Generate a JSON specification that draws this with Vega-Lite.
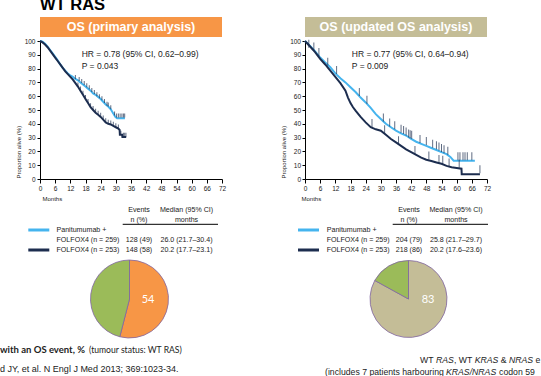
{
  "$schema": "https://vega.github.io/schema/vega-lite/v6.json",
  "background": "white",
  "padding": {"left": 0, "top": -4, "right": 0, "bottom": 0},
  "bounds": "flush",
  "align": "each",
  "columns": 2,
  "spacing": {"row": 4, "column": 83},
  "config": {
    "view": {"stroke": null},
    "font": "Liberation Sans",
    "text": {"font": "Liberation Sans"},
    "axis": {"grid": false, "labelOverlap": false, "labelSeparation": 0, "labelFont": "Liberation Sans", "labelFontSize": 6.5, "labelColor": "#222", "titleFont": "Liberation Sans", "titleFontSize": 6, "titleFontWeight": "normal", "titleColor": "#222", "domainColor": "#000", "tickColor": "#000", "domainWidth": 1, "tickWidth": 1, "labelFlush": false}
  },
  "datasets": {
    "km1": [
      {"arm": "Panitumumab + FOLFOX4", "month": 0, "surv": 100}, {"arm": "Panitumumab + FOLFOX4", "month": 1, "surv": 99.5}, {"arm": "Panitumumab + FOLFOX4", "month": 2, "surv": 98}, {"arm": "Panitumumab + FOLFOX4", "month": 3, "surv": 96}, {"arm": "Panitumumab + FOLFOX4", "month": 4, "surv": 93.5}, {"arm": "Panitumumab + FOLFOX4", "month": 5, "surv": 91}, {"arm": "Panitumumab + FOLFOX4", "month": 6, "surv": 88.5}, {"arm": "Panitumumab + FOLFOX4", "month": 7, "surv": 86}, {"arm": "Panitumumab + FOLFOX4", "month": 8, "surv": 83}, {"arm": "Panitumumab + FOLFOX4", "month": 9, "surv": 80.5}, {"arm": "Panitumumab + FOLFOX4", "month": 10, "surv": 78.5}, {"arm": "Panitumumab + FOLFOX4", "month": 11, "surv": 76.5}, {"arm": "Panitumumab + FOLFOX4", "month": 12, "surv": 75}, {"arm": "Panitumumab + FOLFOX4", "month": 13, "surv": 74}, {"arm": "Panitumumab + FOLFOX4", "month": 14, "surv": 72.5}, {"arm": "Panitumumab + FOLFOX4", "month": 15, "surv": 71.5}, {"arm": "Panitumumab + FOLFOX4", "month": 16, "surv": 70}, {"arm": "Panitumumab + FOLFOX4", "month": 17, "surv": 68.5}, {"arm": "Panitumumab + FOLFOX4", "month": 18, "surv": 67}, {"arm": "Panitumumab + FOLFOX4", "month": 19, "surv": 65.5}, {"arm": "Panitumumab + FOLFOX4", "month": 20, "surv": 64}, {"arm": "Panitumumab + FOLFOX4", "month": 21, "surv": 62}, {"arm": "Panitumumab + FOLFOX4", "month": 22, "surv": 61}, {"arm": "Panitumumab + FOLFOX4", "month": 23, "surv": 59.5}, {"arm": "Panitumumab + FOLFOX4", "month": 24, "surv": 58}, {"arm": "Panitumumab + FOLFOX4", "month": 25, "surv": 56}, {"arm": "Panitumumab + FOLFOX4", "month": 26, "surv": 54}, {"arm": "Panitumumab + FOLFOX4", "month": 27, "surv": 52.5}, {"arm": "Panitumumab + FOLFOX4", "month": 28, "surv": 50.5}, {"arm": "Panitumumab + FOLFOX4", "month": 29, "surv": 47.5}, {"arm": "Panitumumab + FOLFOX4", "month": 29.8, "surv": 45}, {"arm": "Panitumumab + FOLFOX4", "month": 30.5, "surv": 44}, {"arm": "Panitumumab + FOLFOX4", "month": 33.6, "surv": 44},
      {"arm": "FOLFOX4", "month": 0, "surv": 100}, {"arm": "FOLFOX4", "month": 1, "surv": 99}, {"arm": "FOLFOX4", "month": 2, "surv": 97.5}, {"arm": "FOLFOX4", "month": 3, "surv": 95.5}, {"arm": "FOLFOX4", "month": 4, "surv": 93}, {"arm": "FOLFOX4", "month": 5, "surv": 90.5}, {"arm": "FOLFOX4", "month": 6, "surv": 88}, {"arm": "FOLFOX4", "month": 7, "surv": 85.5}, {"arm": "FOLFOX4", "month": 8, "surv": 83}, {"arm": "FOLFOX4", "month": 9, "surv": 80.5}, {"arm": "FOLFOX4", "month": 10, "surv": 78}, {"arm": "FOLFOX4", "month": 11, "surv": 76}, {"arm": "FOLFOX4", "month": 12, "surv": 74}, {"arm": "FOLFOX4", "month": 13, "surv": 72}, {"arm": "FOLFOX4", "month": 14, "surv": 69.5}, {"arm": "FOLFOX4", "month": 15, "surv": 67}, {"arm": "FOLFOX4", "month": 16, "surv": 64}, {"arm": "FOLFOX4", "month": 17, "surv": 61}, {"arm": "FOLFOX4", "month": 18, "surv": 58}, {"arm": "FOLFOX4", "month": 19, "surv": 55}, {"arm": "FOLFOX4", "month": 20, "surv": 52}, {"arm": "FOLFOX4", "month": 21, "surv": 50}, {"arm": "FOLFOX4", "month": 22, "surv": 48}, {"arm": "FOLFOX4", "month": 23, "surv": 46.5}, {"arm": "FOLFOX4", "month": 24, "surv": 45}, {"arm": "FOLFOX4", "month": 25, "surv": 43}, {"arm": "FOLFOX4", "month": 26, "surv": 41}, {"arm": "FOLFOX4", "month": 27, "surv": 40}, {"arm": "FOLFOX4", "month": 28, "surv": 39.5}, {"arm": "FOLFOX4", "month": 29, "surv": 38.5}, {"arm": "FOLFOX4", "month": 30, "surv": 37.5}, {"arm": "FOLFOX4", "month": 31, "surv": 36.5}, {"arm": "FOLFOX4", "month": 31.5, "surv": 35.5}, {"arm": "FOLFOX4", "month": 31.6, "surv": 32}, {"arm": "FOLFOX4", "month": 32.5, "surv": 32}, {"arm": "FOLFOX4", "month": 32.6, "surv": 30.5}, {"arm": "FOLFOX4", "month": 34.1, "surv": 30.5}
    ],
    "cens1": [
      {"month": 14, "surv": 74}, {"month": 15.5, "surv": 72.5}, {"month": 16.5, "surv": 71}, {"month": 17.5, "surv": 69.5}, {"month": 18.5, "surv": 68}, {"month": 19.5, "surv": 66.5}, {"month": 20.5, "surv": 64.5}, {"month": 21.5, "surv": 63}, {"month": 22.5, "surv": 61.5}, {"month": 23.5, "surv": 60}, {"month": 24.5, "surv": 58.5}, {"month": 25.5, "surv": 56.5}, {"month": 26.5, "surv": 54.5}, {"month": 27, "surv": 54}, {"month": 28, "surv": 52}, {"month": 29.5, "surv": 47.5}, {"month": 30.3, "surv": 46}, {"month": 31, "surv": 46}, {"month": 31.7, "surv": 46}, {"month": 32.4, "surv": 46}, {"month": 33, "surv": 46}, {"month": 33.5, "surv": 46},
      {"month": 15, "surv": 68.5}, {"month": 16, "surv": 65.5}, {"month": 17, "surv": 62.5}, {"month": 18, "surv": 59.5}, {"month": 19, "surv": 56.5}, {"month": 20, "surv": 53.5}, {"month": 21, "surv": 51.5}, {"month": 22, "surv": 49.5}, {"month": 23, "surv": 48}, {"month": 24, "surv": 46.5}, {"month": 25, "surv": 44.5}, {"month": 26, "surv": 42.5}, {"month": 27, "surv": 41.5}, {"month": 28, "surv": 41}, {"month": 29, "surv": 40}, {"month": 30, "surv": 39}, {"month": 31, "surv": 38}, {"month": 32, "surv": 33.5}, {"month": 33, "surv": 32}, {"month": 33.5, "surv": 32}, {"month": 34, "surv": 32}
    ],
    "km2": [
      {"arm": "Panitumumab + FOLFOX4", "month": 0, "surv": 100}, {"arm": "Panitumumab + FOLFOX4", "month": 2, "surv": 96.5}, {"arm": "Panitumumab + FOLFOX4", "month": 4, "surv": 92.5}, {"arm": "Panitumumab + FOLFOX4", "month": 6, "surv": 88}, {"arm": "Panitumumab + FOLFOX4", "month": 8, "surv": 84.5}, {"arm": "Panitumumab + FOLFOX4", "month": 10, "surv": 81}, {"arm": "Panitumumab + FOLFOX4", "month": 12, "surv": 76.5}, {"arm": "Panitumumab + FOLFOX4", "month": 14, "surv": 73}, {"arm": "Panitumumab + FOLFOX4", "month": 16, "surv": 70}, {"arm": "Panitumumab + FOLFOX4", "month": 18, "surv": 66.5}, {"arm": "Panitumumab + FOLFOX4", "month": 20, "surv": 63}, {"arm": "Panitumumab + FOLFOX4", "month": 22, "surv": 59}, {"arm": "Panitumumab + FOLFOX4", "month": 24, "surv": 55.5}, {"arm": "Panitumumab + FOLFOX4", "month": 26, "surv": 51.5}, {"arm": "Panitumumab + FOLFOX4", "month": 28, "surv": 47}, {"arm": "Panitumumab + FOLFOX4", "month": 30, "surv": 43.5}, {"arm": "Panitumumab + FOLFOX4", "month": 32, "surv": 40}, {"arm": "Panitumumab + FOLFOX4", "month": 34, "surv": 37.5}, {"arm": "Panitumumab + FOLFOX4", "month": 36, "surv": 35}, {"arm": "Panitumumab + FOLFOX4", "month": 38, "surv": 33}, {"arm": "Panitumumab + FOLFOX4", "month": 40, "surv": 31.5}, {"arm": "Panitumumab + FOLFOX4", "month": 42, "surv": 29}, {"arm": "Panitumumab + FOLFOX4", "month": 44, "surv": 27}, {"arm": "Panitumumab + FOLFOX4", "month": 46, "surv": 25.5}, {"arm": "Panitumumab + FOLFOX4", "month": 48, "surv": 24}, {"arm": "Panitumumab + FOLFOX4", "month": 50, "surv": 22.5}, {"arm": "Panitumumab + FOLFOX4", "month": 52, "surv": 21}, {"arm": "Panitumumab + FOLFOX4", "month": 54, "surv": 19.5}, {"arm": "Panitumumab + FOLFOX4", "month": 56, "surv": 18}, {"arm": "Panitumumab + FOLFOX4", "month": 57.5, "surv": 16}, {"arm": "Panitumumab + FOLFOX4", "month": 58.8, "surv": 13.3}, {"arm": "Panitumumab + FOLFOX4", "month": 67.2, "surv": 13.3},
      {"arm": "FOLFOX4", "month": 0, "surv": 100}, {"arm": "FOLFOX4", "month": 2, "surv": 96}, {"arm": "FOLFOX4", "month": 4, "surv": 92}, {"arm": "FOLFOX4", "month": 6, "surv": 87}, {"arm": "FOLFOX4", "month": 8, "surv": 83}, {"arm": "FOLFOX4", "month": 10, "surv": 78.5}, {"arm": "FOLFOX4", "month": 12, "surv": 74}, {"arm": "FOLFOX4", "month": 14, "surv": 69.5}, {"arm": "FOLFOX4", "month": 16, "surv": 64}, {"arm": "FOLFOX4", "month": 17, "surv": 59}, {"arm": "FOLFOX4", "month": 18, "surv": 55}, {"arm": "FOLFOX4", "month": 19, "surv": 52}, {"arm": "FOLFOX4", "month": 20, "surv": 49.5}, {"arm": "FOLFOX4", "month": 22, "surv": 45}, {"arm": "FOLFOX4", "month": 24, "surv": 41}, {"arm": "FOLFOX4", "month": 26, "surv": 37.5}, {"arm": "FOLFOX4", "month": 28, "surv": 36}, {"arm": "FOLFOX4", "month": 30, "surv": 35}, {"arm": "FOLFOX4", "month": 32, "surv": 32}, {"arm": "FOLFOX4", "month": 34, "surv": 29}, {"arm": "FOLFOX4", "month": 36, "surv": 26.5}, {"arm": "FOLFOX4", "month": 38, "surv": 24}, {"arm": "FOLFOX4", "month": 40, "surv": 21.5}, {"arm": "FOLFOX4", "month": 42, "surv": 19.5}, {"arm": "FOLFOX4", "month": 44, "surv": 17.5}, {"arm": "FOLFOX4", "month": 46, "surv": 15.5}, {"arm": "FOLFOX4", "month": 48, "surv": 14}, {"arm": "FOLFOX4", "month": 50, "surv": 13}, {"arm": "FOLFOX4", "month": 52, "surv": 12}, {"arm": "FOLFOX4", "month": 54, "surv": 11}, {"arm": "FOLFOX4", "month": 56, "surv": 9.5}, {"arm": "FOLFOX4", "month": 58, "surv": 8.5}, {"arm": "FOLFOX4", "month": 60, "surv": 8}, {"arm": "FOLFOX4", "month": 61.9, "surv": 7.5}, {"arm": "FOLFOX4", "month": 62, "surv": 3.5}, {"arm": "FOLFOX4", "month": 69.2, "surv": 3.5}
    ],
    "cens2": [
      {"month": 1.5, "surv": 98}, {"month": 3.5, "surv": 96}, {"month": 5.5, "surv": 92}, {"month": 9, "surv": 85}, {"month": 12.5, "surv": 79}, {"month": 21.5, "surv": 63}, {"month": 24.5, "surv": 57.5}, {"month": 31, "surv": 44.5}, {"month": 33.5, "surv": 41}, {"month": 35.5, "surv": 39}, {"month": 38, "surv": 36.5}, {"month": 39, "surv": 35.5}, {"month": 40, "surv": 34.5}, {"month": 41, "surv": 33}, {"month": 41.6, "surv": 32.5}, {"month": 42.2, "surv": 32}, {"month": 45.5, "surv": 29}, {"month": 48, "surv": 27.5}, {"month": 50.5, "surv": 25.5}, {"month": 52, "surv": 24.5}, {"month": 53, "surv": 23.5}, {"month": 54, "surv": 22.5}, {"month": 55, "surv": 21.5}, {"month": 56.5, "surv": 20.5}, {"month": 60.5, "surv": 16.5}, {"month": 61.3, "surv": 16.5}, {"month": 62.5, "surv": 16.5}, {"month": 63.3, "surv": 16.5}, {"month": 64.2, "surv": 16.5}, {"month": 66, "surv": 16.5},
      {"month": 26.5, "surv": 40.5}, {"month": 31.5, "surv": 36}, {"month": 37, "surv": 28}, {"month": 43.5, "surv": 21}, {"month": 49, "surv": 17}, {"month": 53, "surv": 14.5}, {"month": 54.5, "surv": 14}, {"month": 57, "surv": 12}, {"month": 61, "surv": 11}, {"month": 69.2, "surv": 7}
    ]
  },
  "concat": [
    {
      "width": 182, "height": 20,
      "view": {"fill": "#F79646", "stroke": null},
      "layer": [
        {
          "data": {"values": [{"label": "OS (primary analysis)"}]},
          "mark": {"type": "text", "color": "white", "fontWeight": "bold", "fontSize": 12.5, "font": "Liberation Sans"},
          "encoding": {"text": {"field": "label"}}
        },
        {
          "data": {"values": [{"label": "WT RAS"}]},
          "mark": {"type": "text", "color": "#000", "fontWeight": "bold", "fontSize": 16.5, "font": "Liberation Sans", "align": "left", "baseline": "alphabetic", "dy": -17.5},
          "encoding": {"x": {"datum": 0, "type": "quantitative", "scale": {"domain": [0, 1], "nice": false}, "axis": null}, "text": {"field": "label"}}
        }
      ]
    },
    {
      "width": 182, "height": 20,
      "view": {"fill": "#C4BD97", "stroke": null},
      "data": {"values": [{"label": "OS (updated OS analysis)"}]},
      "mark": {"type": "text", "color": "white", "fontWeight": "bold", "fontSize": 12.5, "font": "Liberation Sans"},
      "encoding": {"text": {"field": "label"}}
    },
    {
      "width": 182, "height": 138,
      "layer": [
        {
          "data": {"name": "km1"},
          "mark": {"type": "line", "strokeWidth": 2, "interpolate": "linear"},
          "encoding": {
            "x": {"field": "month", "type": "quantitative", "scale": {"domain": [0, 72], "nice": false},
              "axis": {"values": [0, 6, 12, 18, 24, 30, 36, 42, 48, 54, 60, 66, 72], "tickCount": 30, "title": "Months", "tickSize": 4, "labelPadding": 2, "titleX": 2, "titleY": 16, "titleAlign": "left", "titleBaseline": "top"}},
            "y": {"field": "surv", "type": "quantitative", "scale": {"domain": [0, 100], "nice": false},
              "axis": {"values": [0, 10, 20, 30, 40, 50, 60, 70, 80, 90, 100], "tickCount": 30, "title": "Proportion alive (%)", "tickSize": 3, "labelPadding": 2, "titleX": -21.5, "titleY": 137, "titleAngle": -90, "titleAlign": "left", "titleBaseline": "middle"}},
            "color": {"field": "arm", "type": "nominal", "scale": {"domain": ["Panitumumab + FOLFOX4", "FOLFOX4"], "range": ["#45B4EE", "#1C2D4F"]}, "legend": null}
          }
        },
        {
          "data": {"name": "cens1"},
          "mark": {"type": "tick", "orient": "vertical", "size": 4, "thickness": 1, "color": "#1C2D4F"},
          "encoding": {"x": {"field": "month", "type": "quantitative"}, "y": {"field": "surv", "type": "quantitative"}}
        },
        {
          "data": {"values": [{"t": "HR = 0.78 (95% CI, 0.62–0.99)\nP = 0.043"}]},
          "mark": {"type": "text", "align": "left", "baseline": "top", "lineBreak": "\n", "lineHeight": 12, "fontSize": 8.5, "color": "#222"},
          "encoding": {"x": {"datum": 16.5, "type": "quantitative"}, "y": {"datum": 93.2, "type": "quantitative"}, "text": {"field": "t"}}
        }
      ]
    },
    {
      "width": 182, "height": 138,
      "layer": [
        {
          "data": {"name": "km2"},
          "mark": {"type": "line", "strokeWidth": 2, "interpolate": "linear"},
          "encoding": {
            "x": {"field": "month", "type": "quantitative", "scale": {"domain": [0, 72], "nice": false},
              "axis": {"values": [0, 6, 12, 18, 24, 30, 36, 42, 48, 54, 60, 66, 72], "tickCount": 30, "title": "Months", "tickSize": 4, "labelPadding": 2, "titleX": -4, "titleY": 16, "titleAlign": "left", "titleBaseline": "top"}},
            "y": {"field": "surv", "type": "quantitative", "scale": {"domain": [0, 100], "nice": false},
              "axis": {"values": [0, 10, 20, 30, 40, 50, 60, 70, 80, 90, 100], "tickCount": 30, "title": "Proportion alive (%)", "tickSize": 3, "labelPadding": 1.5, "titleX": -21.5, "titleY": 137, "titleAngle": -90, "titleAlign": "left", "titleBaseline": "middle"}},
            "color": {"field": "arm", "type": "nominal", "scale": {"domain": ["Panitumumab + FOLFOX4", "FOLFOX4"], "range": ["#45B4EE", "#1C2D4F"]}, "legend": null}
          }
        },
        {
          "data": {"name": "cens2"},
          "mark": {"type": "tick", "orient": "vertical", "size": 8, "thickness": 1, "color": "#1C2D4F"},
          "encoding": {"x": {"field": "month", "type": "quantitative"}, "y": {"field": "surv", "type": "quantitative"}}
        },
        {
          "data": {"values": [{"t": "HR = 0.77 (95% CI, 0.64–0.94)\nP = 0.009"}]},
          "mark": {"type": "text", "align": "left", "baseline": "top", "lineBreak": "\n", "lineHeight": 12, "fontSize": 8.5, "color": "#222"},
          "encoding": {"x": {"datum": 18.5, "type": "quantitative"}, "y": {"datum": 93.2, "type": "quantitative"}, "text": {"field": "t"}}
        }
      ]
    },
    {
      "width": 182, "height": 72,
      "data": {"values": [
        {"line": 0, "c2": "Events", "c3": "Median (95% CI)"},
        {"line": 1, "c2": "n (%)", "c3": "months"},
        {"line": 2, "c1": "Panitumumab +"},
        {"line": 3, "c1": "FOLFOX4 (n = 259)", "c2": "128 (49)", "c3": "26.0 (21.7–30.4)"},
        {"line": 4, "c1": "FOLFOX4 (n = 253)", "c2": "148 (58)", "c3": "20.2 (17.7–23.1)"}
      ]},
      "layer": [
        {
          "data": {"values": [{"arm": "Panitumumab + FOLFOX4", "line": 2}, {"arm": "FOLFOX4", "line": 4}]},
          "mark": {"type": "rule", "strokeWidth": 3},
          "encoding": {
            "x": {"datum": -11.7, "type": "quantitative", "scale": {"domain": [0, 182], "nice": false, "zero": false}, "axis": null},
            "x2": {"datum": 9.3},
            "y": {"field": "line", "type": "quantitative", "scale": {"domain": [-2.7, 4.5], "reverse": true, "nice": false, "zero": false}, "axis": null},
            "color": {"field": "arm", "type": "nominal", "legend": null}
          }
        },
        {
          "data": {"values": [{"k": "header"}]},
          "mark": {"type": "rule", "color": "#000", "strokeWidth": 1},
          "encoding": {"x": {"datum": 82.7, "type": "quantitative"}, "x2": {"datum": 178}, "y": {"datum": 1.43, "type": "quantitative"}}
        },
        {
          "transform": [{"filter": "isValid(datum.c1)"}],
          "mark": {"type": "text", "align": "left", "baseline": "middle", "fontSize": 7.1, "color": "#222"},
          "encoding": {"x": {"datum": 16.5, "type": "quantitative"}, "y": {"field": "line", "type": "quantitative"}, "text": {"field": "c1"}}
        },
        {
          "transform": [{"filter": "isValid(datum.c2)"}],
          "mark": {"type": "text", "align": "center", "baseline": "middle", "fontSize": 7.1, "color": "#222"},
          "encoding": {"x": {"datum": 99, "type": "quantitative"}, "y": {"field": "line", "type": "quantitative"}, "text": {"field": "c2"}}
        },
        {
          "transform": [{"filter": "isValid(datum.c3)"}],
          "mark": {"type": "text", "align": "center", "baseline": "middle", "fontSize": 7.1, "color": "#222"},
          "encoding": {"x": {"datum": 146.5, "type": "quantitative"}, "y": {"field": "line", "type": "quantitative"}, "text": {"field": "c3"}}
        }
      ]
    },
    {
      "width": 182, "height": 72,
      "data": {"values": [
        {"line": 0, "c2": "Events", "c3": "Median (95% CI)"},
        {"line": 1, "c2": "n (%)", "c3": "months"},
        {"line": 2, "c1": "Panitumumab +"},
        {"line": 3, "c1": "FOLFOX4 (n = 259)", "c2": "204 (79)", "c3": "25.8 (21.7–29.7)"},
        {"line": 4, "c1": "FOLFOX4 (n = 253)", "c2": "218 (86)", "c3": "20.2 (17.6–23.6)"}
      ]},
      "layer": [
        {
          "data": {"values": [{"arm": "Panitumumab + FOLFOX4", "line": 2}, {"arm": "FOLFOX4", "line": 4}]},
          "mark": {"type": "rule", "strokeWidth": 3},
          "encoding": {
            "x": {"datum": -7, "type": "quantitative", "scale": {"domain": [0, 182], "nice": false, "zero": false}, "axis": null},
            "x2": {"datum": 14},
            "y": {"field": "line", "type": "quantitative", "scale": {"domain": [-2.7, 4.5], "reverse": true, "nice": false, "zero": false}, "axis": null},
            "color": {"field": "arm", "type": "nominal", "legend": null}
          }
        },
        {
          "data": {"values": [{"k": "header"}]},
          "mark": {"type": "rule", "color": "#000", "strokeWidth": 1},
          "encoding": {"x": {"datum": 87.7, "type": "quantitative"}, "x2": {"datum": 183}, "y": {"datum": 1.43, "type": "quantitative"}}
        },
        {
          "transform": [{"filter": "isValid(datum.c1)"}],
          "mark": {"type": "text", "align": "left", "baseline": "middle", "fontSize": 7.1, "color": "#222"},
          "encoding": {"x": {"datum": 21.7, "type": "quantitative"}, "y": {"field": "line", "type": "quantitative"}, "text": {"field": "c1"}}
        },
        {
          "transform": [{"filter": "isValid(datum.c2)"}],
          "mark": {"type": "text", "align": "center", "baseline": "middle", "fontSize": 7.1, "color": "#222"},
          "encoding": {"x": {"datum": 104, "type": "quantitative"}, "y": {"field": "line", "type": "quantitative"}, "text": {"field": "c2"}}
        },
        {
          "transform": [{"filter": "isValid(datum.c3)"}],
          "mark": {"type": "text", "align": "center", "baseline": "middle", "fontSize": 7.1, "color": "#222"},
          "encoding": {"x": {"datum": 151, "type": "quantitative"}, "y": {"field": "line", "type": "quantitative"}, "text": {"field": "c3"}}
        }
      ]
    },
    {
      "width": 179, "height": 80,
      "data": {"values": [{"slice": "OS event (primary analysis)", "pct": 54, "ord": 1}, {"slice": "No OS event", "pct": 46, "ord": 2}]},
      "layer": [
        {
          "mark": {"type": "arc", "outerRadius": 39, "stroke": "#8064A2", "strokeWidth": 0.8},
          "encoding": {
            "theta": {"field": "pct", "type": "quantitative", "stack": true},
            "fill": {"field": "slice", "type": "nominal", "scale": {"domain": ["OS event (primary analysis)", "OS event (updated analysis)", "No OS event"], "range": ["#F79646", "#C4BD97", "#9BBB59"]}, "legend": null},
            "order": {"field": "ord", "type": "quantitative"}
          }
        },
        {
          "transform": [{"filter": "datum.ord == 1"}],
          "mark": {"type": "text", "dx": 18.5, "dy": 1, "color": "white", "fontSize": 11, "font": "Lato"},
          "encoding": {"text": {"field": "pct"}}
        }
      ]
    },
    {
      "width": 207, "height": 80,
      "data": {"values": [{"slice": "OS event (updated analysis)", "pct": 83, "ord": 1}, {"slice": "No OS event", "pct": 17, "ord": 2}]},
      "layer": [
        {
          "mark": {"type": "arc", "outerRadius": 38.5, "stroke": "#8064A2", "strokeWidth": 0.8},
          "encoding": {
            "theta": {"field": "pct", "type": "quantitative", "stack": true},
            "fill": {"field": "slice", "type": "nominal", "scale": {"domain": ["OS event (primary analysis)", "OS event (updated analysis)", "No OS event"], "range": ["#F79646", "#C4BD97", "#9BBB59"]}, "legend": null},
            "order": {"field": "ord", "type": "quantitative"}
          }
        },
        {
          "transform": [{"filter": "datum.ord == 1"}],
          "mark": {"type": "text", "dx": 19.5, "dy": 1, "color": "white", "fontSize": 11, "font": "Lato"},
          "encoding": {"text": {"field": "pct"}}
        }
      ]
    },
    {
      "width": 182, "height": 33,
      "layer": [
        {
          "data": {"values": [{"t": "with an OS event, %"}]},
          "mark": {"type": "text", "align": "left", "baseline": "middle", "font": "Lato", "fontWeight": "bold", "fontSize": 9.5, "color": "#222"},
          "encoding": {
            "x": {"datum": -40, "type": "quantitative", "scale": {"domain": [0, 182], "nice": false, "zero": false}, "axis": null},
            "y": {"datum": 7, "type": "quantitative", "scale": {"domain": [0, 33], "reverse": true, "nice": false, "zero": false}, "axis": null},
            "text": {"field": "t"}
          }
        },
        {
          "data": {"values": [{"t": "(tumour status: WT RAS)"}]},
          "mark": {"type": "text", "align": "left", "baseline": "middle", "font": "Lato", "fontSize": 8.6, "color": "#222"},
          "encoding": {"x": {"datum": 49, "type": "quantitative"}, "y": {"datum": 7, "type": "quantitative"}, "text": {"field": "t"}}
        },
        {
          "data": {"values": [{"t": "d JY, et al. N Engl J Med 2013; 369:1023-34."}]},
          "mark": {"type": "text", "align": "left", "baseline": "middle", "fontSize": 9, "color": "#222"},
          "encoding": {"x": {"datum": -40, "type": "quantitative"}, "y": {"datum": 26, "type": "quantitative"}, "text": {"field": "t"}}
        }
      ]
    },
    {
      "width": 182, "height": 33,
      "layer": [
        {
          "data": {"values": [{"t": "WT"}]},
          "mark": {"type": "text", "align": "left", "baseline": "middle", "fontSize": 8.7, "color": "#222"},
          "encoding": {
            "x": {"datum": 115, "type": "quantitative", "scale": {"domain": [0, 182], "nice": false, "zero": false}, "axis": null},
            "y": {"datum": 17, "type": "quantitative", "scale": {"domain": [0, 33], "reverse": true, "nice": false, "zero": false}, "axis": null},
            "text": {"field": "t"}
          }
        },
        {
          "data": {"values": [{"t": "RAS"}]},
          "mark": {"type": "text", "align": "left", "baseline": "middle", "fontSize": 8.7, "fontStyle": "italic", "color": "#222"},
          "encoding": {"x": {"datum": 131, "type": "quantitative"}, "y": {"datum": 17, "type": "quantitative"}, "text": {"field": "t"}}
        },
        {
          "data": {"values": [{"t": ", WT"}]},
          "mark": {"type": "text", "align": "left", "baseline": "middle", "fontSize": 8.7, "color": "#222"},
          "encoding": {"x": {"datum": 148.9, "type": "quantitative"}, "y": {"datum": 17, "type": "quantitative"}, "text": {"field": "t"}}
        },
        {
          "data": {"values": [{"t": "KRAS"}]},
          "mark": {"type": "text", "align": "left", "baseline": "middle", "fontSize": 8.7, "fontStyle": "italic", "color": "#222"},
          "encoding": {"x": {"datum": 169.7, "type": "quantitative"}, "y": {"datum": 17, "type": "quantitative"}, "text": {"field": "t"}}
        },
        {
          "data": {"values": [{"t": "&"}]},
          "mark": {"type": "text", "align": "left", "baseline": "middle", "fontSize": 8.7, "color": "#222"},
          "encoding": {"x": {"datum": 195.8, "type": "quantitative"}, "y": {"datum": 17, "type": "quantitative"}, "text": {"field": "t"}}
        },
        {
          "data": {"values": [{"t": "NRAS"}]},
          "mark": {"type": "text", "align": "left", "baseline": "middle", "fontSize": 8.7, "fontStyle": "italic", "color": "#222"},
          "encoding": {"x": {"datum": 204, "type": "quantitative"}, "y": {"datum": 17, "type": "quantitative"}, "text": {"field": "t"}}
        },
        {
          "data": {"values": [{"t": "exon 2"}]},
          "mark": {"type": "text", "align": "left", "baseline": "middle", "fontSize": 8.7, "color": "#222", "limit": 5.2, "ellipsis": "\u200b"},
          "encoding": {"x": {"datum": 230.6, "type": "quantitative"}, "y": {"datum": 17, "type": "quantitative"}, "text": {"field": "t"}}
        },
        {
          "data": {"values": [{"t": "(includes 7 patients harbouring"}]},
          "mark": {"type": "text", "align": "left", "baseline": "middle", "fontSize": 8.7, "color": "#222"},
          "encoding": {"x": {"datum": 20, "type": "quantitative"}, "y": {"datum": 28.5, "type": "quantitative"}, "text": {"field": "t"}}
        },
        {
          "data": {"values": [{"t": "KRAS/NRAS"}]},
          "mark": {"type": "text", "align": "left", "baseline": "middle", "fontSize": 8.7, "fontStyle": "italic", "color": "#222"},
          "encoding": {"x": {"datum": 141, "type": "quantitative"}, "y": {"datum": 28.5, "type": "quantitative"}, "text": {"field": "t"}}
        },
        {
          "data": {"values": [{"t": "codon 59"}]},
          "mark": {"type": "text", "align": "left", "baseline": "middle", "fontSize": 8.7, "color": "#222", "limit": 45, "ellipsis": "\u200b"},
          "encoding": {"x": {"datum": 194.1, "type": "quantitative"}, "y": {"datum": 28.5, "type": "quantitative"}, "text": {"field": "t"}}
        }
      ]
    }
  ]
}
